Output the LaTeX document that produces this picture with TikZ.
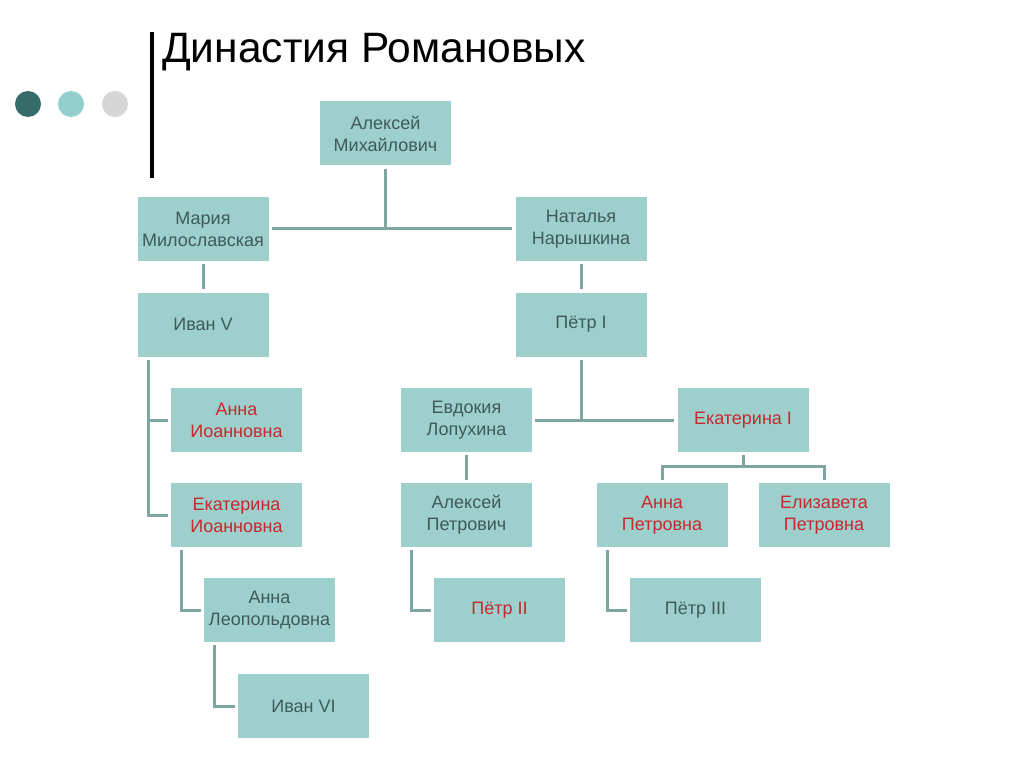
\documentclass[tikz,border=0pt]{standalone}
\usepackage{fontspec}
\setmainfont{Liberation Sans}
\usetikzlibrary{calc}
\definecolor{boxfill}{HTML}{9DCFCC}
\definecolor{txt}{HTML}{3E5B5A}
\definecolor{redtxt}{HTML}{C8282D}
\definecolor{linkc}{HTML}{7FA6A3}
\definecolor{dotA}{HTML}{356B68}
\definecolor{dotB}{HTML}{93CFCC}
\definecolor{dotC}{HTML}{D6D6D6}
\tikzset{
  person/.style={rectangle, fill=boxfill, minimum width=131pt, minimum height=64pt, inner sep=0pt, align=center, font=\fontsize{18}{22}\selectfont, text=txt},
  ruler/.style={person, text=redtxt},
  link/.style={draw=linkc, line width=3pt},
  dot/.style={circle, minimum size=26pt, inner sep=0pt}
}
\begin{document}
\begin{tikzpicture}[x=1pt,y=-1pt]
\useasboundingbox[fill=white] (0,0) rectangle (1024,767);
% header
\node[dot, fill=dotA] (d1) at (28,104) {};
\node[dot, fill=dotB] (d2) at (71,104) {};
\node[dot, fill=dotC] (d3) at (115,104) {};
\draw[line width=4pt] (152,32) -- (152,178);
\node[anchor=base west, inner sep=0pt, font=\fontsize{42.5}{48}\selectfont] (title) at (162,63) {Династия Романовых};
% people
\node[person] (am) at (385.5,133.5) {Алексей\\Михайлович};
\node[person] (ms) at (203,229) {Мария\\Милославская};
\node[person] (nn) at (581,229) {Наталья\\Нарышкина};
\node[person] (iv) at (203,324.5) {Иван V};
\node[person] (p1) at (581,324.5) {Пётр I};
\node[ruler] (ai) at (236.5,420) {Анна\\Иоанновна};
\node[ruler] (ei) at (236.5,515) {Екатерина\\Иоанновна};
\node[person] (al) at (269.5,610) {Анна\\Леопольдовна};
\node[person] (i6) at (303.5,706) {Иван VI};
\node[person] (el) at (466.5,420) {Евдокия\\Лопухина};
\node[ruler] (e1) at (743,420) {Екатерина I};
\node[person] (ap) at (466.5,515) {Алексей\\Петрович};
\node[ruler] (anp) at (662,515) {Анна\\Петровна};
\node[ruler] (elp) at (824,515) {Елизавета\\Петровна};
\node[ruler] (p2) at (499.5,610) {Пётр II};
\node[person] (p3) at (695.5,610) {Пётр III};
% connectors
\draw[link] ([yshift=-3pt]am.south) -- (am.south |- ms.east);
\draw[link] ([xshift=3pt]ms.east) -- ([xshift=-3pt]nn.west);
\draw[link] ([yshift=-3pt]ms.south) -- ([yshift=3pt]iv.north);
\draw[link] ([yshift=-3pt]nn.south) -- ([yshift=3pt]p1.north);
\coordinate (ivbar) at ([xshift=11pt,yshift=-3pt]iv.south west);
\draw[link] (ivbar) |- ([xshift=-3pt]ei.west);
\draw[link] (ivbar |- ai.west) -- ([xshift=-3pt]ai.west);
\draw[link] ([yshift=-3pt]p1.south) -- (p1.south |- el.east);
\draw[link] ([xshift=3pt]el.east) -- ([xshift=-3pt]e1.west);
\draw[link] ([yshift=-3pt]el.south) -- ([yshift=3pt]ap.north);
\coordinate (ek) at ([yshift=-14pt]e1.south);
\draw[link] ([yshift=-3pt]e1.south) -- (ek);
\draw[link] ([yshift=3pt]anp.north) |- (elp.north |- ek) -- ([yshift=3pt]elp.north);
\draw[link] ([xshift=11pt,yshift=-3pt]ei.south west) |- ([xshift=-3pt]al.west);
\draw[link] ([xshift=11pt,yshift=-3pt]al.south west) |- ([xshift=-3pt]i6.west);
\draw[link] ([xshift=11pt,yshift=-3pt]ap.south west) |- ([xshift=-3pt]p2.west);
\draw[link] ([xshift=11pt,yshift=-3pt]anp.south west) |- ([xshift=-3pt]p3.west);
\end{tikzpicture}
\end{document}
